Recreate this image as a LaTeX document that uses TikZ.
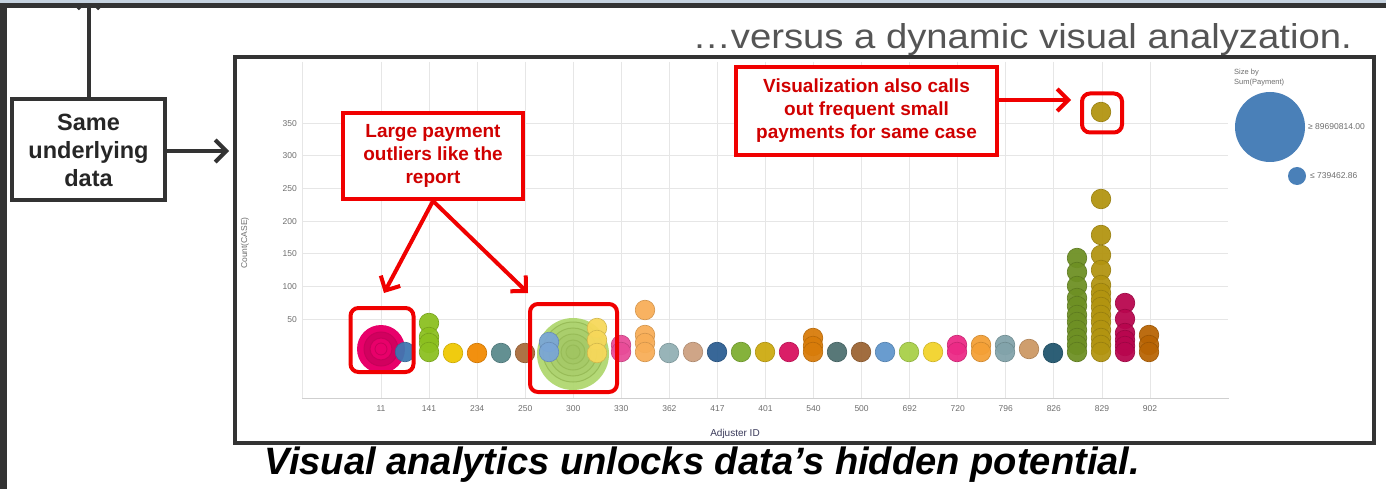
\documentclass[tikz,border=0pt]{standalone}
\usepackage{fontspec}
\setmainfont{Liberation Sans}
\usetikzlibrary{arrows.meta}
\definecolor{frame}{HTML}{333333}
\definecolor{topblue}{HTML}{C5D2DF}
\definecolor{gridc}{HTML}{E6E6E6}
\definecolor{axisc}{HTML}{CFCFCF}
\definecolor{ticktext}{HTML}{6E6E6E}
\definecolor{calred}{HTML}{F00000}
\definecolor{caltext}{HTML}{D00000}
\definecolor{titlegrey}{HTML}{555555}
\definecolor{legblue}{HTML}{4A80B8}
\definecolor{adjc}{HTML}{3A3A5A}
% bubble colours
\definecolor{cpink}{HTML}{E8006A}
\definecolor{cpinkd}{HTML}{C8005A}
\definecolor{cblue}{HTML}{3E78B2}
\definecolor{cgreen}{HTML}{8CC020}
\definecolor{cyellow}{HTML}{F0C800}
\definecolor{corange}{HTML}{F28A00}
\definecolor{cteal}{HTML}{5A8A8C}
\definecolor{cbrown}{HTML}{A86A3A}
\definecolor{clblue}{HTML}{7AA6D6}
\definecolor{clgreen}{HTML}{B0D870}
\definecolor{clgreend}{HTML}{98BC58}
\definecolor{cyellowb}{HTML}{F7D85A}
\definecolor{cpinkb}{HTML}{E84C98}
\definecolor{corangeb}{HTML}{F8AE58}
\definecolor{cgreyteal}{HTML}{92B0B4}
\definecolor{ctan}{HTML}{CCA080}
\definecolor{cdblue}{HTML}{2C5E92}
\definecolor{cgreenb}{HTML}{7EAE30}
\definecolor{cmustard}{HTML}{CCAA10}
\definecolor{ccrimson}{HTML}{D8105E}
\definecolor{corangec}{HTML}{D87C0A}
\definecolor{cdteal}{HTML}{4E7070}
\definecolor{cbrownb}{HTML}{9C6434}
\definecolor{cmblue}{HTML}{6096CC}
\definecolor{clgreenb}{HTML}{A8D048}
\definecolor{cyellowc}{HTML}{F2D32A}
\definecolor{cpinkc}{HTML}{EC2A86}
\definecolor{corangee}{HTML}{F4A036}
\definecolor{cgreyblue}{HTML}{82A3AA}
\definecolor{ctanb}{HTML}{CC9864}
\definecolor{cdtealb}{HTML}{20566E}
\definecolor{colive}{HTML}{6E9024}
\definecolor{cmustardb}{HTML}{B29410}
\definecolor{ccrimsonb}{HTML}{B8064E}
\definecolor{corangef}{HTML}{B86404}
\tikzset{
  gridline/.style={draw=gridc, line width=0.8pt},
  ticklabel/.style={text=ticktext, font=\fontsize{8.5}{10}\selectfont, inner sep=1pt},
  bubble/.style={fill=#1, draw=#1!85!black, line width=0.6pt, fill opacity=0.94},
  callout/.style={draw=calred, line width=4pt, fill=white, text=caltext, align=center,
    font=\bfseries\fontsize{19}{23}\selectfont, inner sep=0pt},
  highlight/.style={draw=calred, line width=4pt, rounded corners=8pt, inner sep=0pt},
  redarrow/.style={draw=calred, line width=4pt, -{Straight Barb[length=11pt,width=22pt]}},
  blackarrow/.style={draw=frame, line width=4pt, -{Straight Barb[length=11pt,width=22pt]}},
  blackbox/.style={draw=frame, line width=4pt, fill=white, text=black!85, align=center,
    font=\bfseries\fontsize{23.5}{28}\selectfont, inner sep=0pt}
}
\begin{document}
\begin{tikzpicture}[x=1pt,y=-1pt]
\useasboundingbox (0,0) rectangle (1386,489);
\fill[white] (0,0) rectangle (1386,489);
% left border of the slide
\fill[frame] (0,0) rectangle (7,489);

% title
\node[anchor=south east, inner sep=0pt, text=titlegrey] (title) at (1352,56)
  {\resizebox{659pt}{25pt}{…versus a dynamic visual analyzation.}};

% chart frame
\draw[frame, line width=4pt] (235,57) rectangle (1374,443);

% grid
\draw[gridline] (302,62) -- (302,398);
\foreach \i in {0,...,16} {
  \draw[gridline] ({381+48.06*\i},62) -- ({381+48.06*\i},398);
}
\foreach \v in {50,100,...,350} {
  \draw[gridline] (302,{352-0.654*\v}) -- (1228,{352-0.654*\v});
  \node[ticklabel, anchor=east] (yt\v) at (298,{352-0.654*\v}) {\v};
}
\draw[axisc, line width=0.8pt] (302,398) -- (1229,398);
\foreach \lab [count=\i from 0] in {11,141,234,250,300,330,362,417,401,540,500,692,720,796,826,829,902} {
  \node[ticklabel] (xt\i) at ({381+48.06*\i},409) {\lab};
}
\node[ticklabel, rotate=90] (ylab) at (245,243) {Count(CASE)};
\node[text=adjc, font=\fontsize{10}{12}\selectfont, inner sep=1pt] (xlab) at (735,434) {Adjuster ID};

% legend
\node[ticklabel, anchor=west, align=left, font=\fontsize{7.5}{10}\selectfont] (legt) at (1233,78) {Size by\\Sum(Payment)};
\fill[legblue] (1270,127) circle (35);
\fill[legblue] (1297,176) circle (9);
\node[ticklabel, anchor=west] (leg1) at (1307,127) {≥ 89690814.00};
\node[ticklabel, anchor=west] (leg2) at (1309,176) {≤ 739462.86};

% big pink bubble group (adjuster 11)
\fill[cpink] (381,349) circle (24);
\draw[cpinkd, line width=1pt, fill=cpinkd!70!cpink] (381,349) circle (17);
\draw[cpinkd, line width=1pt, fill=cpink] (381,349) circle (11);
\draw[cpinkd, line width=0.8pt] (381,349) circle (6);

% big light green bubble group (adjuster 300)
\fill[clgreen, fill opacity=0.95] (573,354) circle (36);
\foreach \r in {30,24,18,12,7} {
  \draw[clgreend, line width=1pt, fill=clgreend, fill opacity=0.18] (573,352) circle (\r);
}

% small bubbles
\foreach \x/\y/\c in {
  405/352/cblue,
  429/323/cgreen, 429/337/cgreen, 429/343/cgreen, 429/352/cgreen,
  453/353/cyellow, 477/353/corange, 501/353/cteal, 525/353/cbrown,
  549/342/clblue, 549/352/clblue,
  597/328/cyellowb, 597/340/cyellowb, 597/353/cyellowb,
  621/345/cpinkb, 621/352/cpinkb,
  645/310/corangeb, 645/335/corangeb, 645/343/corangeb, 645/352/corangeb,
  669/353/cgreyteal, 693/352/ctan, 717/352/cdblue, 741/352/cgreenb,
  765/352/cmustard, 789/352/ccrimson,
  813/338/corangec, 813/346/corangec, 813/352/corangec,
  837/352/cdteal, 861/352/cbrownb, 885/352/cmblue, 909/352/clgreenb,
  933/352/cyellowc, 957/345/cpinkc, 957/352/cpinkc,
  981/345/corangee, 981/352/corangee, 1005/345/cgreyblue, 1005/352/cgreyblue,
  1029/349/ctanb, 1053/353/cdtealb,
  1077/258/colive, 1077/272/colive, 1077/286/colive, 1077/298/colive, 1077/306/colive,
  1077/315/colive, 1077/322/colive, 1077/330/colive, 1077/338/colive, 1077/345/colive, 1077/352/colive,
  1101/112/cmustardb, 1101/199/cmustardb, 1101/235/cmustardb, 1101/255/cmustardb,
  1101/270/cmustardb, 1101/285/cmustardb, 1101/293/cmustardb, 1101/300/cmustardb,
  1101/307/cmustardb, 1101/315/cmustardb, 1101/322/cmustardb, 1101/330/cmustardb,
  1101/338/cmustardb, 1101/345/cmustardb, 1101/352/cmustardb,
  1125/303/ccrimsonb, 1125/319/ccrimsonb, 1125/333/ccrimsonb, 1125/340/ccrimsonb,
  1125/346/ccrimsonb, 1125/352/ccrimsonb,
  1149/335/corangef, 1149/345/corangef, 1149/352/corangef} {
  \path[bubble=\c] (\x,\y) circle (9.8);
}

% highlight boxes
\node[highlight, minimum width=63pt, minimum height=64pt] (h1) at (382,340) {};
\node[highlight, minimum width=87pt, minimum height=88pt] (h2) at (573.5,348) {};
\node[highlight, minimum width=40pt, minimum height=39pt] (h3) at (1102,113) {};

% callouts
\node[callout, minimum width=180pt, minimum height=86pt] (c1) at (433,156)
  {Large payment\\outliers like the\\report};
\node[callout, minimum width=261pt, minimum height=88pt] (c2) at (866.5,111)
  {Visualization also calls\\out frequent small\\payments for same case};
\coordinate (t1) at (384,293);
\coordinate (t2) at (528,293);
\coordinate (t3) at (1071,100);
\draw[redarrow] (c1.south) -- (t1);
\draw[redarrow] (c1.south) -- (t2);
\draw[redarrow] (c2.east |- t3) -- (t3);

% same underlying data
\node[blackbox, minimum width=153pt, minimum height=101pt] (sud) at (88.5,150)
  {Same\\underlying\\data};
\coordinate (sudtop) at (88.5,-5);
\coordinate (chartin) at (229,151);
\draw[blackarrow] (sud.east |- chartin) -- (chartin);
\draw[blackarrow] (sud.north) -- (sudtop);
% top edge of the slide above
\fill[topblue] (0,0) rectangle (1386,3);
\fill[frame] (0,3) rectangle (1386,8);

% bottom message
\node[anchor=north, inner sep=0pt] (msg) at (702.5,447)
  {\resizebox{875pt}{!}{\fontsize{30}{36}\selectfont\bfseries\itshape Visual analytics unlocks data’s hidden potential.}};
\end{tikzpicture}
\end{document}
